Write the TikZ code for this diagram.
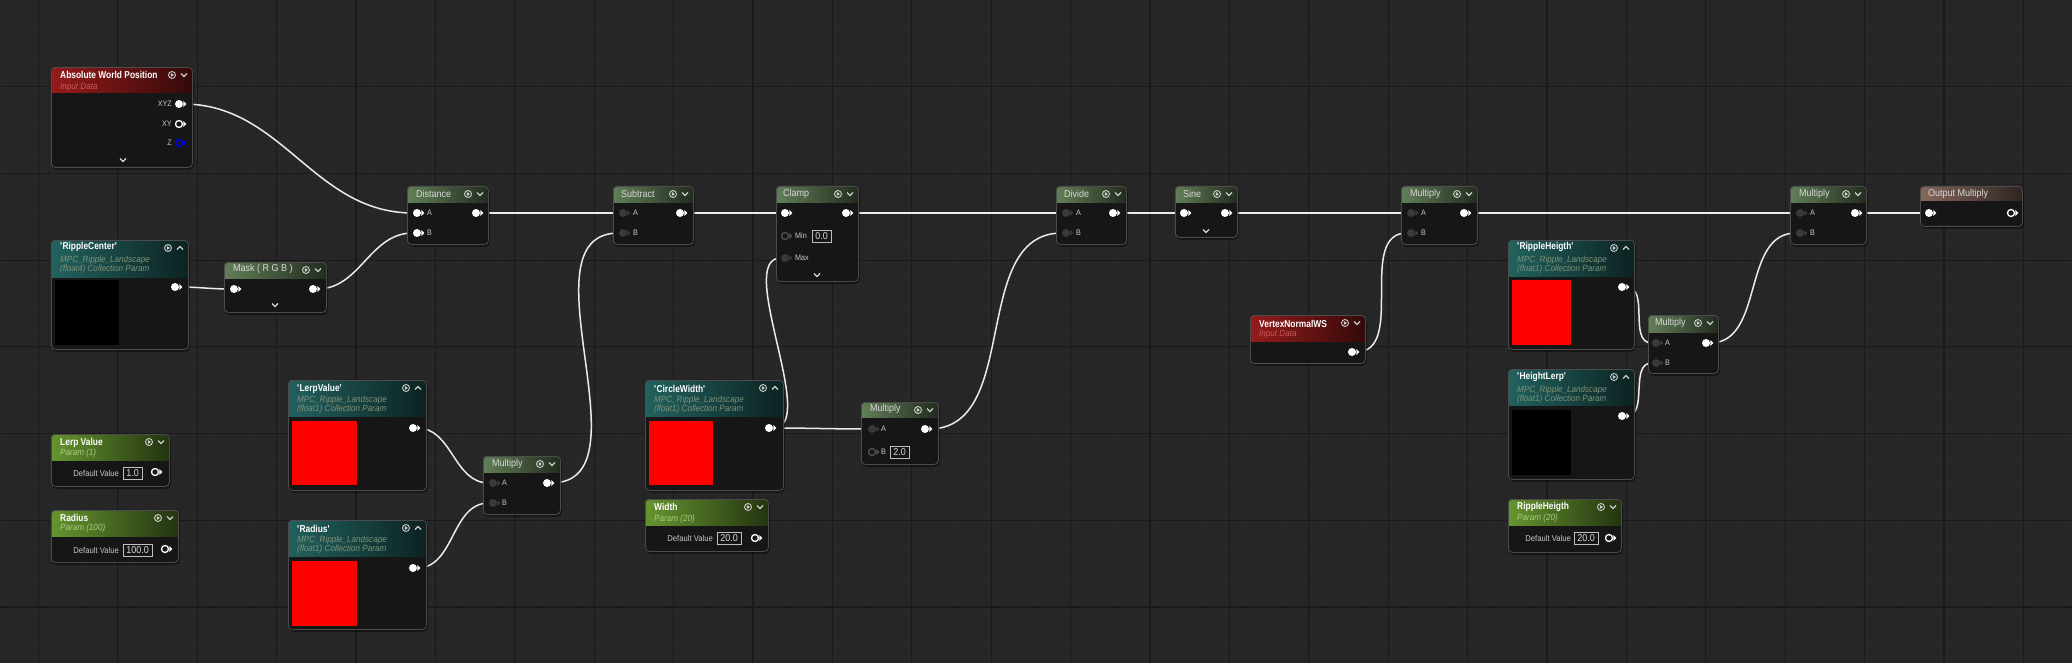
\documentclass[tikz,border=0pt]{standalone}
\usepackage{fontspec}
\setmainfont{Liberation Sans}[FakeStretch=0.9]
\newfontfamily\titlefont{Liberation Sans}[FakeStretch=0.84]
\usepackage{tikz}
\usetikzlibrary{shapes.geometric}

\definecolor{bg}{HTML}{272727}
\definecolor{gridminor}{HTML}{242424}
\definecolor{gridmajor}{HTML}{1A1A1A}
\definecolor{bodyfill}{HTML}{151615}
\definecolor{opgreen}{HTML}{627F58}
\definecolor{parmgreen}{HTML}{66952F}
\definecolor{mpcteal}{HTML}{22625F}
\definecolor{inred}{HTML}{961B1B}
\definecolor{outbrown}{HTML}{86685C}
\definecolor{pindark}{HTML}{3A3A3A}
\definecolor{ringdark}{HTML}{505050}
\definecolor{lbl}{HTML}{C8C8C8}
\definecolor{subteal}{HTML}{7E927A}
\definecolor{subred}{HTML}{C85A5A}
\definecolor{subgreen}{HTML}{A9CB82}

\pgfdeclarelayer{back}
\pgfdeclarelayer{wires}
\pgfsetlayers{back,wires,main}

% one material node: name, x1, y1, x2, y2, header bottom, header colour, chevron (1 down, -1 up, 0 none)
\newcommand{\uebox}[8]{%
  \fill[black, opacity=0.4, rounded corners=5] ({#2+1},{#3+2}) rectangle ({#4+2},{#5+3});
  \fill[bodyfill, rounded corners=4] (#2,#3) rectangle (#4,#5);
  \begin{scope}
    \clip (#2,#3) rectangle (#4,#6);
    \shade[rounded corners=4, left color=#7, right color=#7!35!black] (#2,#3) rectangle (#4,#5);
  \end{scope}
  \node[uenode, minimum width={#4-#2}, minimum height={#5-#3}, anchor=north west] (#1) at (#2,#3) {};
  \ifnum#8=0\relax\else
    \draw[icon] ({#4-20},{#3+8}) circle[radius=3.5];
    \fill[white!80!black] ({#4-21.2},{#3+6}) -- ({#4-18},{#3+8}) -- ({#4-21.2},{#3+10}) -- cycle;
    \draw[icon, line width=1.2] ({#4-11},{#3+8-1.5*(#8)}) -- ({#4-8},{#3+8+1.5*(#8)}) -- ({#4-5},{#3+8-1.5*(#8)});
  \fi
}

\begin{document}
\begin{tikzpicture}[x=1pt, y=-1pt,
  uenode/.style={draw=black!70, line width=0.8, rounded corners=4, inner sep=0},
  wire/.style={white!92!black, line width=1.5},
  icon/.style={white!80!black, line width=0.9},
  chev/.style={white!85!black, line width=1.2},
  pintri/.style={isosceles triangle, isosceles triangle apex angle=90, inner sep=0, minimum size=3, anchor=west},
  pinon/.style={circle, fill=white, inner sep=0, minimum size=8, label={[pintri, fill=white]east:{}}},
  pinoff/.style={circle, fill=pindark, inner sep=0, minimum size=8, label={[pintri, fill=pindark]east:{}}},
  pinring/.style={circle, draw=#1, line width=1.3, inner sep=0, minimum size=7, label={[pintri, fill=#1]east:{}}},
  pinring/.default=white,
  ttl/.style={anchor=west, inner sep=0, text=white, font=\titlefont\bfseries\fontsize{10}{12}\selectfont},
  optl/.style={anchor=west, inner sep=0, text=white!85!black, font=\fontsize{10}{12}\selectfont},
  subtxt/.style={anchor=west, inner sep=0, font=\itshape\fontsize{9}{10}\selectfont},
  plbl/.style={anchor=west, inner sep=0, text=lbl, font=\fontsize{8}{9}\selectfont},
  dlbl/.style={anchor=east, inner sep=0, text=lbl, font=\fontsize{8.5}{9}\selectfont},
  valbox/.style={anchor=west, draw=white!75!black, line width=0.8, text=white!85!black, inner xsep=3, inner ysep=1, minimum height=12, font=\fontsize{10}{11}\selectfont}
]
\useasboundingbox (0,0) rectangle (2072,663);
\begin{pgfonlayer}{back}
\begin{scope}
\clip (0,0) rectangle (2072,663);
\fill[bg] (0,0) rectangle (2072,663);
\foreach \i in {0,...,215} \draw[gridminor, line width=0.6] ({-41+9.925*\i},0) -- ++(0,663);
\foreach \j in {0,...,62} \draw[gridminor, line width=0.6] (0,{10.84*\j}) -- ++(2072,0);
\foreach \i in {0,...,26} \draw[gridmajor, line width=1.2] ({38.4+79.4*\i},0) -- ++(0,663);
\foreach \j in {1,...,7} \draw[gridmajor, line width=1.2] (0,{86.7*\j}) -- ++(2072,0);
\end{scope}
\end{pgfonlayer}

% inputs on the left
\uebox{awp}{51}{67}{192}{167}{93}{inred}{1}
\node[ttl] (awp-t) at (60,75) {Absolute World Position};
\node[subtxt, text=subred] (awp-s) at (60,87) {Input Data};
\node[pinon] (awp-xyz) at (179,104) {};
\node[pinring] (awp-xy) at (179,124) {};
\node[pinring=blue] (awp-z) at (179,143) {};
\node[plbl, anchor=east] (awp-l1) at (172,104) {XYZ};
\node[plbl, anchor=east] (awp-l2) at (172,124) {XY};
\node[plbl, anchor=east] (awp-l3) at (172,143) {Z};
\draw[chev] (120,158.5) -- (123,161.5) -- (126,158.5);

\uebox{rc}{51}{240}{188}{349}{277}{mpcteal}{-1}
\node[ttl] (rc-t) at (60,247) {\textquotesingle RippleCenter\textquotesingle};
\node[subtxt, text=subteal] (rc-s1) at (60,260) {MPC\_Ripple\_Landscape};
\node[subtxt, text=subteal] (rc-s2) at (60,269) {(float4) Collection Param};
\fill[black] (55,280) rectangle (119,345);
\node[pinon] (rc-out) at (175,287) {};

\uebox{mask}{224}{262}{326}{312}{278}{opgreen}{1}
\node[optl] (mask-t) at (233,269) {Mask ( R G B )};
\node[pinon] (mask-in) at (234,289) {};
\node[pinon] (mask-out) at (313,289) {};
\draw[chev] (272,303.5) -- (275,306.5) -- (278,303.5);

\uebox{lv}{51}{434}{169}{486}{460}{parmgreen}{1}
\node[ttl] (lv-t) at (60,443) {Lerp Value};
\node[subtxt, text=subgreen] (lv-s) at (60,453) {Param (1)};
\node[dlbl] (lv-d) at (119,473) {Default Value};
\node[valbox] (lv-v) at (123,473) {1.0};
\node[pinring] (lv-out) at (155,472) {};

\uebox{rad}{51}{510}{178}{562}{536}{parmgreen}{1}
\node[ttl] (rad-t) at (60,518) {Radius};
\node[subtxt, text=subgreen] (rad-s) at (60,528) {Param (100)};
\node[dlbl] (rad-d) at (119,550) {Default Value};
\node[valbox] (rad-v) at (123,550) {100.0};
\node[pinring] (rad-out) at (165,549) {};

\uebox{clv}{288}{380}{426}{490}{416}{mpcteal}{-1}
\node[ttl] (clv-t) at (297,389) {\textquotesingle LerpValue\textquotesingle};
\node[subtxt, text=subteal] (clv-s1) at (297,400) {MPC\_Ripple\_Landscape};
\node[subtxt, text=subteal] (clv-s2) at (297,409) {(float1) Collection Param};
\fill[red] (292,421) rectangle (357,485);
\node[pinon] (clv-out) at (413,428) {};

\uebox{crad}{288}{520}{426}{629}{556}{mpcteal}{-1}
\node[ttl] (crad-t) at (297,529) {\textquotesingle Radius\textquotesingle};
\node[subtxt, text=subteal] (crad-s1) at (297,540) {MPC\_Ripple\_Landscape};
\node[subtxt, text=subteal] (crad-s2) at (297,549) {(float1) Collection Param};
\fill[red] (292,561) rectangle (357,626);
\node[pinon] (crad-out) at (413,568) {};

\uebox{mul1}{483}{456}{560}{514}{472}{opgreen}{1}
\node[optl] (mul1-t) at (492,464) {Multiply};
\node[pinoff] (mul1-a) at (493,483) {};
\node[pinoff] (mul1-b) at (493,503) {};
\node[plbl] (mul1-la) at (502,483) {A};
\node[plbl] (mul1-lb) at (502,503) {B};
\node[pinon] (mul1-out) at (547,483) {};

% main chain
\uebox{dist}{407}{186}{488}{244}{203}{opgreen}{1}
\node[optl] (dist-t) at (416,194) {Distance};
\node[pinon] (dist-a) at (417,213) {};
\node[pinon] (dist-b) at (417,233) {};
\node[plbl] (dist-la) at (427,213) {A};
\node[plbl] (dist-lb) at (427,233) {B};
\node[pinon] (dist-out) at (476,213) {};

\uebox{subt}{613}{186}{693}{244}{203}{opgreen}{1}
\node[optl] (subt-t) at (621,194) {Subtract};
\node[pinoff] (subt-a) at (623,213) {};
\node[pinoff] (subt-b) at (623,233) {};
\node[plbl] (subt-la) at (633,213) {A};
\node[plbl] (subt-lb) at (633,233) {B};
\node[pinon] (subt-out) at (680,213) {};

\uebox{clamp}{776}{186}{858}{281}{203}{opgreen}{1}
\node[optl] (clamp-t) at (783,194) {Clamp};
\node[pinon] (clamp-in) at (785,213) {};
\node[pinon] (clamp-out) at (846,213) {};
\node[pinring=ringdark] (clamp-min) at (785,236) {};
\node[plbl] (clamp-lmin) at (795,236) {Min};
\node[valbox] (clamp-v) at (812,236) {0.0};
\node[pinoff] (clamp-max) at (785,258) {};
\node[plbl] (clamp-lmax) at (795,258) {Max};
\draw[chev] (814,273.5) -- (817,276.5) -- (820,273.5);

\uebox{cw}{645}{380}{783}{490}{416}{mpcteal}{-1}
\node[ttl] (cw-t) at (654,389) {\textquotesingle CircleWidth\textquotesingle};
\node[subtxt, text=subteal] (cw-s1) at (654,400) {MPC\_Ripple\_Landscape};
\node[subtxt, text=subteal] (cw-s2) at (654,409) {(float1) Collection Param};
\fill[red] (649,421) rectangle (713,485);
\node[pinon] (cw-out) at (769,428) {};

\uebox{wd}{645}{499}{768}{551}{525}{parmgreen}{1}
\node[ttl] (wd-t) at (654,507) {Width};
\node[subtxt, text=subgreen] (wd-s) at (654,519) {Param (20)};
\node[dlbl] (wd-d) at (713,538) {Default Value};
\node[valbox] (wd-v) at (717,538) {20.0};
\node[pinring] (wd-out) at (755,538) {};

\uebox{mul2}{861}{402}{938}{464}{417}{opgreen}{1}
\node[optl] (mul2-t) at (870,409) {Multiply};
\node[pinoff] (mul2-a) at (872,429) {};
\node[plbl] (mul2-la) at (881,429) {A};
\node[pinring=ringdark] (mul2-b) at (872,452) {};
\node[plbl] (mul2-lb) at (881,452) {B};
\node[valbox] (mul2-v) at (890,452) {2.0};
\node[pinon] (mul2-out) at (925,429) {};

\uebox{div}{1056}{186}{1126}{244}{203}{opgreen}{1}
\node[optl] (div-t) at (1064,194) {Divide};
\node[pinoff] (div-a) at (1066,213) {};
\node[pinoff] (div-b) at (1066,233) {};
\node[plbl] (div-la) at (1076,213) {A};
\node[plbl] (div-lb) at (1076,233) {B};
\node[pinon] (div-out) at (1113,213) {};

\uebox{sine}{1175}{186}{1237}{237}{203}{opgreen}{1}
\node[optl] (sine-t) at (1183,194) {Sine};
\node[pinon] (sine-in) at (1184,213) {};
\node[pinon] (sine-out) at (1225,213) {};
\draw[chev] (1203,229.5) -- (1206,232.5) -- (1209,229.5);

\uebox{mul3}{1401}{186}{1477}{244}{203}{opgreen}{1}
\node[optl] (mul3-t) at (1410,194) {Multiply};
\node[pinoff] (mul3-a) at (1411,213) {};
\node[pinoff] (mul3-b) at (1411,233) {};
\node[plbl] (mul3-la) at (1421,213) {A};
\node[plbl] (mul3-lb) at (1421,233) {B};
\node[pinon] (mul3-out) at (1464,213) {};

\uebox{vn}{1250}{315}{1365}{363}{341}{inred}{1}
\node[ttl] (vn-t) at (1259,324) {VertexNormalWS};
\node[subtxt, text=subred] (vn-s) at (1259,334) {Input Data};
\node[pinon] (vn-out) at (1352,352) {};

% height branch
\uebox{crh}{1508}{240}{1634}{349}{276}{mpcteal}{-1}
\node[ttl] (crh-t) at (1517,247) {\textquotesingle RippleHeigth\textquotesingle};
\node[subtxt, text=subteal] (crh-s1) at (1517,260) {MPC\_Ripple\_Landscape};
\node[subtxt, text=subteal] (crh-s2) at (1517,269) {(float1) Collection Param};
\fill[red] (1512,280) rectangle (1571,345);
\node[pinon] (crh-out) at (1622,287) {};

\uebox{chl}{1508}{369}{1634}{479}{405}{mpcteal}{-1}
\node[ttl] (chl-t) at (1517,377) {\textquotesingle HeightLerp\textquotesingle};
\node[subtxt, text=subteal] (chl-s1) at (1517,390) {MPC\_Ripple\_Landscape};
\node[subtxt, text=subteal] (chl-s2) at (1517,399) {(float1) Collection Param};
\fill[black] (1512,410) rectangle (1571,475);
\node[pinon] (chl-out) at (1622,416) {};

\uebox{rh}{1508}{499}{1621}{552}{525}{parmgreen}{1}
\node[ttl] (rh-t) at (1517,507) {RippleHeigth};
\node[subtxt, text=subgreen] (rh-s) at (1517,518) {Param (20)};
\node[dlbl] (rh-d) at (1571,538) {Default Value};
\node[valbox] (rh-v) at (1574,538) {20.0};
\node[pinring] (rh-out) at (1609,538) {};

\uebox{mul4}{1648}{315}{1718}{373}{332}{opgreen}{1}
\node[optl] (mul4-t) at (1655,323) {Multiply};
\node[pinoff] (mul4-a) at (1656,343) {};
\node[pinoff] (mul4-b) at (1656,363) {};
\node[plbl] (mul4-la) at (1665,343) {A};
\node[plbl] (mul4-lb) at (1665,363) {B};
\node[pinon] (mul4-out) at (1706,343) {};

\uebox{mul5}{1790}{186}{1866}{244}{203}{opgreen}{1}
\node[optl] (mul5-t) at (1799,194) {Multiply};
\node[pinoff] (mul5-a) at (1800,213) {};
\node[pinoff] (mul5-b) at (1800,233) {};
\node[plbl] (mul5-la) at (1810,213) {A};
\node[plbl] (mul5-lb) at (1810,233) {B};
\node[pinon] (mul5-out) at (1855,213) {};

\uebox{outm}{1920}{186}{2022}{226}{201}{outbrown}{0}
\node[optl] (outm-t) at (1928,194) {Output Multiply};
\node[pinon] (outm-in) at (1929,213) {};
\node[pinring] (outm-out) at (2011,213) {};

% wires
\begin{pgfonlayer}{wires}
\foreach \a/\b in {awp-xyz/dist-a, mask-out/dist-b, rc-out/mask-in, dist-out/subt-a, subt-out/clamp-in,
  mul1-out/subt-b, clv-out/mul1-a, crad-out/mul1-b, clamp-out/div-a, cw-out/mul2-a, mul2-out/div-b,
  div-out/sine-in, sine-out/mul3-a, vn-out/mul3-b, mul3-out/mul5-a, crh-out/mul4-a, chl-out/mul4-b,
  mul4-out/mul5-b, mul5-out/outm-in}
  \draw[wire] (\a) to[out=0, in=180] (\b);
\draw[wire] (cw-out) to[out=0, in=180, looseness=0.7] (clamp-max);
\end{pgfonlayer}
\end{tikzpicture}
\end{document}
